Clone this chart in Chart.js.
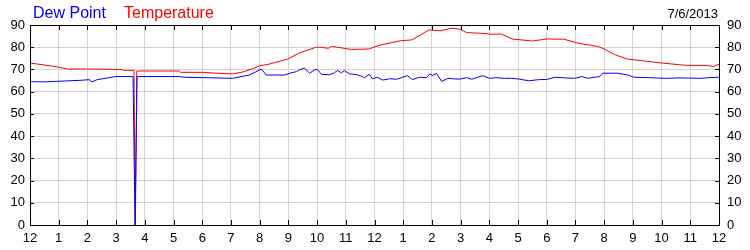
<!DOCTYPE html>
<html>
<head>
<meta charset="utf-8">
<script src="https://cdn.jsdelivr.net/npm/chart.js@4"></script>
<style>
  html, body { margin: 0; padding: 0; background: #fff; }
  #wrap { width: 750px; height: 250px; }
</style>
</head>
<body>
<div id="wrap"><canvas id="weatherChart" width="750" height="250"></canvas></div>
<script>
// hours since midnight (0..24) and readings in deg F
var tempHours = [0, 0.5, 1.0, 1.3, 2.0, 2.5, 3.2, 3.25, 3.62, 3.67, 3.72, 5.2, 5.25, 6.0, 6.5, 7.05, 7.4, 7.8, 8.0, 8.3,
    8.96, 9.4, 9.97, 10.1, 10.4, 10.5, 11.2, 11.8, 12.2, 12.9, 13.3, 13.6, 13.9, 14.3, 14.7, 15.0, 15.2, 15.7, 16.1, 16.4,
    16.8, 17.5, 18.0, 18.6, 19.1, 19.8, 20.0, 20.4, 20.8, 21.4, 22.0, 22.8, 23.6, 23.8, 24.0];
var tempValues = [72.9, 72.0, 71.0, 70.2, 70.2, 70.1, 70.0, 69.6, 69.6, 0, 69.3, 69.3, 68.7, 68.7, 68.3, 68.0, 68.8, 70.5, 71.7, 72.3,
    74.6, 77.5, 80.0, 80.0, 79.5, 80.4, 79.0, 79.2, 81.0, 82.9, 83.3, 85.5, 87.8, 87.4, 88.6, 88.0, 86.6, 86.3, 85.8, 86.0,
    83.7, 82.8, 83.7, 83.6, 81.8, 80.3, 79.2, 76.5, 74.7, 73.8, 72.9, 71.9, 71.8, 71.3, 72.3];

var dewHours = [0, 0.49, 1.19, 1.74, 2.06, 2.16, 2.34, 2.76, 2.96, 3.49, 3.59, 3.66, 3.73, 5.2, 5.37, 7.05, 7.64, 7.85, 8.06, 8.23,
    8.86, 9.1, 9.28, 9.38, 9.56, 9.74, 9.91, 10.01, 10.15, 10.43, 10.6, 10.71, 10.85, 10.95, 11.13, 11.37, 11.58, 11.65, 11.82, 11.93,
    12.1, 12.28, 12.52, 12.77, 12.98, 13.15, 13.32, 13.57, 13.81, 13.92, 14.02, 14.16, 14.34, 14.55, 14.75, 14.96, 15.21, 15.38, 15.56, 15.77,
    16.01, 16.25, 16.53, 16.78, 17.02, 17.37, 17.72, 18.0, 18.28, 18.63, 18.97, 19.22, 19.43, 19.67, 19.85, 19.95, 20.47, 20.82, 21.03, 21.59,
    22.11, 22.64, 23.34, 23.68, 24.0];
var dewValues = [64.5, 64.4, 64.8, 65.1, 65.4, 64.4, 65.4, 66.3, 66.8, 66.8, 66.8, 0, 66.8, 66.8, 66.5, 66.0, 67.5, 68.8, 70.2, 67.5,
    67.5, 68.5, 69.0, 69.8, 70.6, 68.3, 69.8, 70.0, 67.8, 67.6, 68.5, 69.5, 68.5, 69.5, 68.0, 67.7, 66.8, 66.2, 67.8, 65.8,
    66.5, 65.2, 65.8, 65.6, 66.5, 67.2, 65.4, 66.5, 66.3, 68.0, 67.3, 68.2, 64.6, 66.0, 65.8, 65.6, 66.3, 65.6, 66.3, 67.2,
    66.0, 66.3, 66.0, 66.0, 65.7, 64.9, 65.4, 65.5, 66.5, 66.2, 66.0, 66.8, 66.0, 66.5, 66.8, 68.3, 68.3, 67.5, 66.5, 66.3,
    66.0, 66.2, 66.0, 66.3, 66.5];

var chartDate = '7/6/2013';
var legendItems = [['Dew Point', '#0000ff', 33], ['Temperature', '#ff0000', 124]];

function toPoints(hours, values) {
    return hours.map(function(h, i) { return { x: h, y: values[i] }; });
}

function hourLabel(v) {
    var h = v % 12;
    return h === 0 ? '12' : String(h);
}

// frame, inside tick marks, legend text and date
var framePlugin = {
    id: 'frame',
    afterDraw: function(chart) {
        var ctx = chart.ctx, a = chart.chartArea;
        var xs = chart.scales.x, ys = chart.scales.y;
        ctx.save();
        ctx.strokeStyle = '#000';
        ctx.lineWidth = 1;
        ctx.beginPath();
        ctx.rect(Math.round(a.left) + 0.5, Math.round(a.top) + 0.5, Math.round(a.right - a.left), Math.round(a.bottom - a.top));
        for (var h = 1; h < 24; h++) {
            var px = Math.round(xs.getPixelForValue(h)) + 0.5;
            ctx.moveTo(px, a.top); ctx.lineTo(px, a.top + 5);
            ctx.moveTo(px, a.bottom); ctx.lineTo(px, a.bottom - 5);
        }
        for (var v = 10; v < 90; v += 10) {
            var py = Math.round(ys.getPixelForValue(v)) + 0.5;
            ctx.moveTo(a.left, py); ctx.lineTo(a.left + 4, py);
            ctx.moveTo(a.right, py); ctx.lineTo(a.right - 4, py);
        }
        ctx.stroke();

        ctx.font = '16px "Liberation Sans", Arial, sans-serif';
        ctx.textBaseline = 'alphabetic';
        ctx.textAlign = 'left';
        legendItems.forEach(function(it) {
            ctx.fillStyle = it[1];
            ctx.fillText(it[0], it[2], 18);
        });
        ctx.font = '13px "Liberation Sans", Arial, sans-serif';
        ctx.fillStyle = '#000';
        ctx.textAlign = 'right';
        ctx.fillText(chartDate, 718, 18);
        ctx.restore();
    }
};

var tickFont = { family: '"Liberation Sans", Arial, sans-serif', size: 13 };

new Chart(document.getElementById('weatherChart'), {
    type: 'line',
    data: {
        datasets: [
            { label: 'Dew Point', data: toPoints(dewHours, dewValues), borderColor: '#0000ff', borderWidth: 1, pointRadius: 0, tension: 0, fill: false },
            { label: 'Temperature', data: toPoints(tempHours, tempValues), borderColor: '#ff0000', borderWidth: 1, pointRadius: 0, tension: 0, fill: false }
        ]
    },
    options: {
        responsive: false,
        animation: false,
        events: [],
        layout: { padding: { top: 25, left: 0, right: 0, bottom: 0 } },
        plugins: { legend: { display: false }, tooltip: { enabled: false } },
        scales: {
            x: {
                type: 'linear', min: 0, max: 24,
                afterFit: function(s) { s.height = 25; },
                ticks: { stepSize: 1, autoSkip: false, maxRotation: 0, color: '#000', font: tickFont, padding: 6, callback: hourLabel },
                grid: { color: '#d3d3d3', drawTicks: false },
                border: { color: '#000' }
            },
            y: {
                position: 'left', min: 0, max: 90,
                afterFit: function(s) { s.width = 30; },
                ticks: { stepSize: 10, color: '#000', font: tickFont, padding: 5 },
                grid: { color: '#d3d3d3', drawTicks: false },
                border: { color: '#000' }
            },
            y2: {
                position: 'right', min: 0, max: 90,
                afterFit: function(s) { s.width = 31; },
                ticks: { stepSize: 10, color: '#000', font: tickFont, padding: 8 },
                grid: { display: false, drawTicks: false },
                border: { color: '#000' }
            }
        }
    },
    plugins: [framePlugin]
});
</script>
</body>
</html>
